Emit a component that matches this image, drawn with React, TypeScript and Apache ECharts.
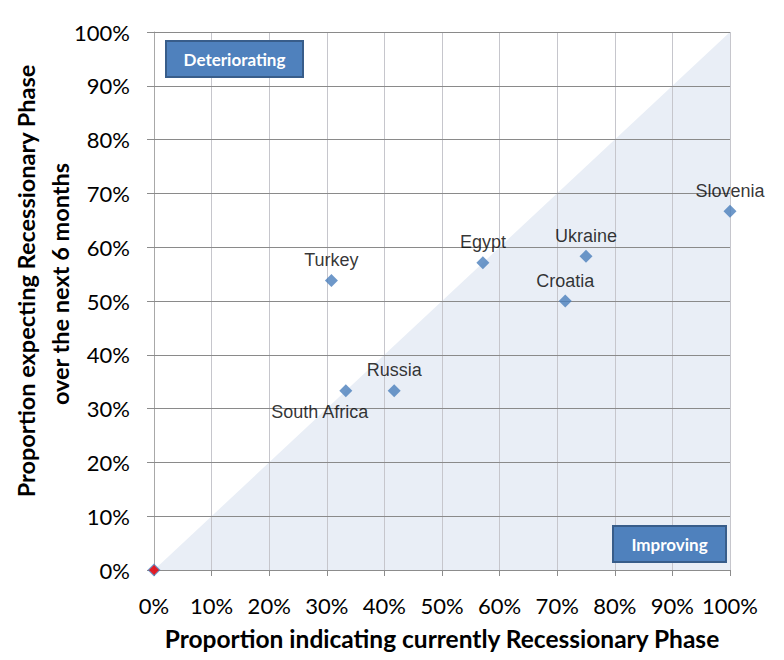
import React, { useEffect, useRef } from "react";
import * as echarts from "echarts";

// share of respondents, in percent
const countries = ["Turkey", "South Africa", "Russia", "Egypt", "Croatia", "Ukraine", "Slovenia"];
const currentShare = [30.8, 33.3, 41.7, 57.1, 71.4, 75.0, 100];
const expectedShare = [53.8, 33.3, 33.3, 57.1, 50.0, 58.3, 66.7];
const origin = [0, 0];
const diagonal = [
  [0, 0],
  [100, 100],
];
const yGridValues = [10, 20, 30, 40, 50, 60, 70, 80, 90, 100];

const App: React.FC = () => {
  const chartRef = useRef<HTMLDivElement | null>(null);

  useEffect(() => {
    document.body.style.margin = "0";
    if (!chartRef.current) return;
    const myChart = echarts.init(chartRef.current, undefined, { renderer: "svg" });

    const points = countries.map((name, i) => {
      const item: any = { name, value: [currentShare[i], expectedShare[i]] };
      if (name === "South Africa") {
        item.label = { position: "bottom", distance: 6, offset: [-26, 0] };
      }
      return item;
    });

    const labelFont = { fontFamily: "Lato", fontSize: 22, color: "#000" };

    const boxRect = (x: number, y: number, w: number, h: number) => ({
      type: "rect",
      z: 20,
      shape: { x, y, width: w, height: h },
      style: { fill: "#4f81bd", stroke: "#385d8a", lineWidth: 2 },
    });
    const boxText = (x: number, y: number, text: string) => ({
      type: "text",
      z: 21,
      x,
      y,
      style: {
        text,
        fill: "#ffffff",
        font: "bold 17px Lato",
        align: "center",
        verticalAlign: "middle",
      },
    });

    const option = {
      animation: false,
      grid: { left: 154, right: 54, top: 32, bottom: 90 },
      xAxis: {
        type: "value",
        min: 0,
        max: 100,
        interval: 10,
        z: 3,
        name: "Proportion indicating currently Recessionary Phase",
        nameLocation: "middle",
        nameGap: 56,
        nameTextStyle: { fontFamily: "Lato", fontSize: 24.5, fontWeight: "bold", color: "#000" },
        axisLine: { show: true, lineStyle: { color: "#8c8c8c", width: 1 } },
        axisTick: { show: true, length: 6, lineStyle: { color: "#8c8c8c" } },
        axisLabel: { ...labelFont, margin: 24, formatter: "{value}%" },
        splitLine: { show: true, lineStyle: { color: "#c6c6cc", width: 1 } },
      },
      yAxis: {
        type: "value",
        min: 0,
        max: 100,
        interval: 10,
        z: 3,
        axisLine: { show: true, lineStyle: { color: "#a8a8a8", width: 1 } },
        axisTick: { show: true, length: 7, lineStyle: { color: "#8c8c8c" } },
        axisLabel: { ...labelFont, margin: 24, formatter: "{value}%" },
        splitLine: { show: true, lineStyle: { color: "#8a8a8a", width: 1 } },
      },
      graphic: [
        {
          type: "text",
          x: 26,
          y: 281,
          rotation: Math.PI / 2,
          style: {
            text: "Proportion expecting Recessionary Phase",
            fill: "#000",
            font: "bold 23.5px Lato",
            align: "center",
            verticalAlign: "middle",
          },
        },
        {
          type: "text",
          x: 60,
          y: 284,
          rotation: Math.PI / 2,
          style: {
            text: "over the next 6 months",
            fill: "#000",
            font: "bold 23.5px Lato",
            align: "center",
            verticalAlign: "middle",
          },
        },
        boxRect(166, 41, 137, 36),
        boxText(234.5, 59, "Deteriorating"),
        boxRect(613, 526, 113, 36),
        boxText(669.5, 544, "Improving"),
      ],
      series: [
        {
          name: "Improving zone",
          type: "line",
          data: diagonal,
          symbol: "none",
          silent: true,
          z: 1,
          lineStyle: { width: 0, opacity: 0 },
          areaStyle: { color: "#e9eef6", opacity: 1 },
          markLine: {
            silent: true,
            symbol: ["none", "none"],
            label: { show: false },
            lineStyle: { color: "#8a8a8a", width: 1, type: "solid" },
            data: yGridValues.map((v) => ({ yAxis: v })),
          },
        },
        {
          name: "Countries",
          type: "scatter",
          symbol: "diamond",
          symbolSize: 13,
          z: 5,
          itemStyle: { color: "#4a7ebb" },
          label: {
            show: true,
            position: "top",
            distance: 5,
            formatter: "{b}",
            fontFamily: "Liberation Sans",
            fontSize: 18,
            color: "#000",
          },
          data: [{ name: "", value: origin }, ...points],
        },
        {
          name: "Origin",
          type: "scatter",
          symbol: "diamond",
          symbolSize: 10,
          z: 6,
          itemStyle: { color: "#ff0000" },
          data: [origin],
        },
      ],
    };

    myChart.setOption(option);

    return () => {
      myChart.dispose();
    };
  }, []);

  return <div ref={chartRef} style={{ width: "784px", height: "660px" }} />;
};

export default App;
